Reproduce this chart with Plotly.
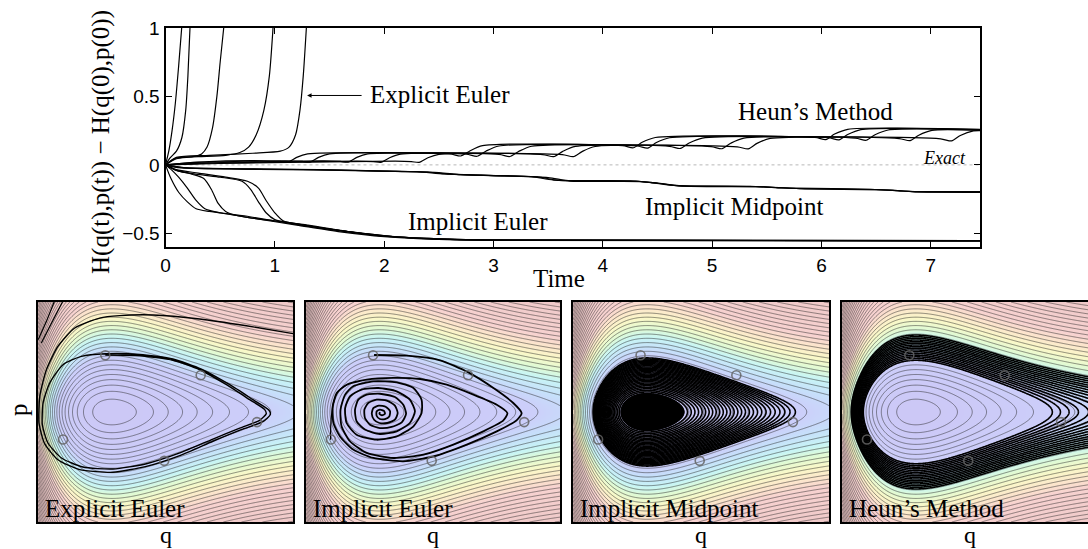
import numpy as np
import plotly.graph_objects as go

# ---------------- top panel: energy error vs time ----------------
exact_t = [0, 7.45]
exact_v = [0, 0]

explicit_euler_t = [
    [0, 0.03, 0.06, 0.09, 0.12, 0.15],
    [0, 0.04, 0.10, 0.15, 0.185, 0.205, 0.225],
    [0, 0.10, 0.25, 0.33, 0.38, 0.43, 0.47, 0.50, 0.535],
    [0, 0.10, 0.30, 0.55, 0.68, 0.76, 0.83, 0.90, 0.95, 0.985],
    [0, 0.10, 0.40, 0.80, 1.05, 1.13, 1.19, 1.23, 1.26, 1.29],
]
explicit_euler_v = [
    [0, 0.10, 0.25, 0.45, 0.72, 1.02],
    [0, 0.05, 0.10, 0.20, 0.40, 0.65, 1.02],
    [0, 0.045, 0.06, 0.08, 0.13, 0.27, 0.50, 0.75, 1.02],
    [0, 0.05, 0.06, 0.07, 0.09, 0.13, 0.22, 0.40, 0.65, 1.02],
    [0, 0.055, 0.07, 0.085, 0.10, 0.13, 0.22, 0.40, 0.65, 1.02],
]

heun_t = [
    [0, 0.3, 0.9, 1.05, 1.12, 1.2, 1.3, 2.6, 2.7, 2.78, 2.9, 4.18, 4.28, 4.36, 4.48, 5.94, 6.04, 6.12, 6.24, 7.45],
    [0, 0.3, 1.1, 1.25, 1.32, 1.4, 1.5, 2.75, 2.85, 2.93, 3.05, 4.31, 4.41, 4.49, 4.61, 6.06, 6.16, 6.24, 6.36, 7.45],
    [0, 0.4, 1.45, 1.6, 1.67, 1.75, 1.85, 3.05, 3.15, 3.23, 3.35, 4.61, 4.71, 4.79, 4.91, 6.31, 6.41, 6.49, 6.61, 7.45],
    [0, 0.4, 1.75, 1.9, 1.97, 2.05, 2.15, 3.45, 3.55, 3.63, 3.75, 4.99, 5.09, 5.17, 5.29, 6.71, 6.81, 6.89, 7.01, 7.45],
    [0, 0.5, 2.1, 2.25, 2.32, 2.4, 2.5, 3.63, 3.73, 3.81, 3.93, 5.23, 5.33, 5.41, 5.53, 7.09, 7.19, 7.27, 7.39, 7.45],
]
heun_v = [
    [0, 0.02, 0.03, 0.025, 0.02, 0.055, 0.08, 0.08, 0.065, 0.1, 0.14, 0.14, 0.125, 0.165, 0.2, 0.2, 0.185, 0.225, 0.26, 0.26],
    [0, 0.018, 0.03, 0.025, 0.02, 0.055, 0.08, 0.078, 0.063, 0.1, 0.138, 0.138, 0.123, 0.163, 0.198, 0.198, 0.183, 0.222, 0.258, 0.258],
    [0, 0.015, 0.03, 0.025, 0.02, 0.055, 0.08, 0.076, 0.061, 0.098, 0.136, 0.135, 0.12, 0.16, 0.196, 0.195, 0.18, 0.22, 0.255, 0.255],
    [0, 0.012, 0.028, 0.024, 0.018, 0.052, 0.078, 0.075, 0.06, 0.097, 0.135, 0.133, 0.118, 0.158, 0.195, 0.192, 0.177, 0.217, 0.252, 0.252],
    [0, 0.01, 0.028, 0.024, 0.018, 0.052, 0.077, 0.075, 0.06, 0.097, 0.134, 0.132, 0.117, 0.157, 0.193, 0.19, 0.175, 0.215, 0.248, 0.25],
]

midpoint_t = [
    [0, 0.15, 0.5, 1.0, 1.5, 2.0, 2.4, 2.6, 3.0, 3.4, 3.6, 4.3, 4.5, 4.7, 5.4, 5.6, 5.8, 6.5, 6.7, 6.85, 7.45],
    [0, 0.2, 0.6, 1.1, 1.6, 2.1, 2.5, 2.7, 3.1, 3.5, 3.7, 4.35, 4.55, 4.75, 5.45, 5.65, 5.85, 6.55, 6.75, 6.9, 7.45],
    [0, 0.1, 0.4, 0.9, 1.4, 1.9, 2.3, 2.55, 2.95, 3.35, 3.55, 4.25, 4.45, 4.65, 5.35, 5.55, 5.75, 6.45, 6.65, 6.8, 7.45],
]
midpoint_v = [
    [0, -0.02, -0.028, -0.032, -0.036, -0.045, -0.052, -0.068, -0.078, -0.088, -0.113, -0.118, -0.133, -0.153, -0.158, -0.166, -0.173, -0.18, -0.188, -0.196, -0.198],
    [0, -0.022, -0.03, -0.035, -0.04, -0.048, -0.056, -0.072, -0.081, -0.093, -0.118, -0.122, -0.138, -0.156, -0.161, -0.169, -0.175, -0.183, -0.191, -0.198, -0.201],
    [0, -0.018, -0.026, -0.03, -0.035, -0.044, -0.05, -0.066, -0.076, -0.086, -0.111, -0.116, -0.131, -0.15, -0.156, -0.164, -0.17, -0.178, -0.186, -0.194, -0.196],
]

implicit_euler_t = [
    [0, 0.05, 0.12, 0.2, 0.28, 0.4, 0.7, 1.0, 1.4, 1.8, 2.2, 2.6, 3.2, 7.45],
    [0, 0.06, 0.12, 0.2, 0.28, 0.36, 0.5, 0.8, 1.2, 1.6, 2.0, 2.5, 3.0, 7.45],
    [0, 0.1, 0.25, 0.35, 0.42, 0.48, 0.55, 0.65, 0.8, 1.1, 1.5, 2.0, 2.5, 3.0, 7.45],
    [0, 0.1, 0.3, 0.5, 0.7, 0.78, 0.85, 0.92, 1.0, 1.2, 1.6, 2.0, 2.5, 3.0, 7.45],
    [0, 0.1, 0.3, 0.55, 0.75, 0.85, 0.92, 1.0, 1.08, 1.3, 1.7, 2.1, 2.6, 3.2, 7.45],
]
implicit_euler_v = [
    [0, -0.1, -0.2, -0.27, -0.32, -0.34, -0.37, -0.41, -0.46, -0.5, -0.53, -0.545, -0.55, -0.555],
    [0, -0.04, -0.09, -0.17, -0.26, -0.32, -0.35, -0.39, -0.44, -0.49, -0.525, -0.545, -0.55, -0.555],
    [0, -0.04, -0.07, -0.1, -0.18, -0.28, -0.34, -0.37, -0.39, -0.42, -0.47, -0.52, -0.54, -0.55, -0.553],
    [0, -0.04, -0.07, -0.09, -0.12, -0.18, -0.27, -0.35, -0.4, -0.43, -0.48, -0.52, -0.54, -0.55, -0.553],
    [0, -0.035, -0.06, -0.09, -0.12, -0.17, -0.26, -0.35, -0.41, -0.44, -0.49, -0.525, -0.545, -0.552, -0.555],
]

x_tick_vals = [0, 1, 2, 3, 4, 5, 6, 7]
y_tick_vals = [-0.5, 0, 0.5, 1]

# ---------------- bottom panels: phase space (q, p) ----------------
# energy-surface model (centre, turning points)
field_q0 = 0.29
field_a = 2.777
field_d = 1.838
field_ps = 7.857
field_levels = dict(start=0.1, end=8.0, size=0.143)

start_q = [0.264, 0.638, 0.859, 0.098, 0.495]
start_p = [0.258, 0.167, -0.046, -0.125, -0.222]

explicit_traj_q = [0.264, 0.399, 0.529, 0.634, 0.739, 0.830, 0.889, 0.895, 0.869, 0.791, 0.686, 0.556, 0.425, 0.294,
                   0.176, 0.092, 0.039, 0.017, 0.020, 0.046, 0.098, 0.170, 0.264, 0.399, 0.529, 0.641, 0.752, 0.843,
                   0.906, 0.911, 0.882, 0.797, 0.686, 0.556, 0.425, 0.294, 0.163, 0.078, 0.026, 0.004, 0.007, 0.033,
                   0.078, 0.144, 0.242, 0.320, 0.451, 0.634, 0.817, 1.0]
explicit_traj_p = [0.259, 0.256, 0.235, 0.192, 0.124, 0.056, 0.011, -0.008, -0.038, -0.073, -0.123, -0.186, -0.235, -0.259,
                   -0.250, -0.209, -0.141, -0.058, 0.041, 0.132, 0.215, 0.253, 0.265, 0.262, 0.241, 0.195, 0.124, 0.056,
                   0.008, -0.012, -0.044, -0.080, -0.133, -0.198, -0.247, -0.274, -0.262, -0.217, -0.144, -0.050, 0.071, 0.192,
                   0.298, 0.382, 0.427, 0.438, 0.441, 0.423, 0.392, 0.356]
explicit_escape_q = [[0.001, 0.033, 0.065], [0.013, 0.059, 0.098]]
explicit_escape_p = [[0.329, 0.412, 0.505], [0.314, 0.420, 0.505]]

implicit_traj_q = [0.268, 0.396, 0.528, 0.639, 0.738, 0.816, 0.849, 0.829, 0.751, 0.633, 0.501, 0.383, 0.265, 0.186,
                   0.134, 0.108, 0.105, 0.121, 0.160, 0.239, 0.344, 0.449, 0.554, 0.659, 0.751, 0.793, 0.777, 0.698,
                   0.580, 0.462, 0.344, 0.239, 0.173, 0.140, 0.136, 0.154, 0.186, 0.265, 0.357, 0.423, 0.455, 0.455,
                   0.423, 0.357, 0.278, 0.199, 0.160, 0.154, 0.173, 0.219, 0.285, 0.357, 0.409, 0.429, 0.409, 0.357,
                   0.291, 0.232, 0.199, 0.193, 0.206, 0.239, 0.291, 0.350, 0.383, 0.394, 0.377, 0.337, 0.291, 0.252,
                   0.232, 0.230, 0.245, 0.278, 0.318, 0.350, 0.361, 0.350, 0.320, 0.289, 0.268, 0.259, 0.265, 0.287,
                   0.315, 0.331, 0.328, 0.311, 0.291, 0.278, 0.278, 0.291, 0.307, 0.311, 0.299, 0.289, 0.291]
implicit_traj_p = [0.259, 0.256, 0.235, 0.180, 0.109, 0.041, -0.005, -0.038, -0.088, -0.148, -0.202, -0.224, -0.209, -0.171,
                   -0.111, -0.050, 0.026, 0.086, 0.124, 0.147, 0.155, 0.150, 0.124, 0.079, 0.033, -0.005, -0.038, -0.088,
                   -0.148, -0.194, -0.209, -0.186, -0.133, -0.065, 0.011, 0.079, 0.117, 0.139, 0.135, 0.109, 0.056, -0.005,
                   -0.065, -0.111, -0.126, -0.103, -0.050, 0.018, 0.071, 0.102, 0.109, 0.094, 0.056, 0.003, -0.050, -0.088,
                   -0.100, -0.080, -0.042, 0.011, 0.056, 0.079, 0.083, 0.068, 0.033, -0.008, -0.047, -0.068, -0.073, -0.058,
                   -0.027, 0.011, 0.041, 0.056, 0.052, 0.029, -0.005, -0.035, -0.050, -0.050, -0.035, -0.008, 0.018, 0.029,
                   0.023, 0.003, -0.020, -0.032, -0.032, -0.017, 0.002, 0.011, 0.005, -0.008, -0.015, -0.008, 0.0]
implicit_side_q = [0.097, 0.098, 0.108, 0.127, 0.167]
implicit_side_p = [-0.126, -0.050, 0.041, 0.094, 0.127]

midpoint_fill_level = 0.2
midpoint_levels = dict(start=0.16, end=1.2, size=0.035)
heun_levels = dict(start=1.1, end=1.95, size=0.055)

panel_titles = ["Explicit Euler", "Implicit Euler", "Implicit Midpoint", "Heun\u2019s Method"]

# ---------------- figure ----------------
W, H_PX = 1088, 549
SERIF = "Liberation Serif"
SANS = "Liberation Sans"


def px(xp):
    return xp / W


def py(yp):
    return 1 - yp / H_PX


fig = go.Figure()

line_style = dict(color="black", width=1.2, shape="spline", smoothing=0.7)
fig.add_trace(go.Scatter(x=exact_t, y=exact_v, mode="lines",
                         line=dict(color="rgb(175,175,175)", width=0.9, dash="dot"),
                         xaxis="x", yaxis="y", showlegend=False, hoverinfo="skip"))
for group_t, group_v in [(explicit_euler_t, explicit_euler_v), (heun_t, heun_v),
                         (midpoint_t, midpoint_v), (implicit_euler_t, implicit_euler_v)]:
    for t, v in zip(group_t, group_v):
        fig.add_trace(go.Scatter(x=t, y=v, mode="lines", line=line_style,
                                 xaxis="x", yaxis="y", showlegend=False, hoverinfo="skip"))

# energy field
fq = np.linspace(0, 1, 301)
fp = np.linspace(-0.5, 0.5, 261)
Q, P = np.meshgrid(fq, fp)
energy = np.sqrt(1 + (field_ps * P) ** 2) - 1 + field_d * (1 - np.exp(-field_a * (Q - field_q0))) ** 2

pastel = [
    [0.0, "rgb(204,200,246)"],
    [1.2 / 4.5, "rgb(204,206,250)"],
    [1.5 / 4.5, "rgb(198,224,250)"],
    [1.85 / 4.5, "rgb(200,245,245)"],
    [2.15 / 4.5, "rgb(224,250,212)"],
    [2.5 / 4.5, "rgb(250,248,200)"],
    [2.85 / 4.5, "rgb(252,230,204)"],
    [3.2 / 4.5, "rgb(247,210,208)"],
    [1.0, "rgb(238,200,200)"],
]
black_scale = [[0, "black"], [1, "black"]]

for i in range(4):
    xa, ya = "x%d" % (i + 2), "y%d" % (i + 2)
    fig.add_trace(go.Contour(x=fq, y=fp, z=energy, xaxis=xa, yaxis=ya, autocontour=False,
                             contours=dict(coloring="heatmap", showlines=True, **field_levels),
                             line=dict(color="rgba(35,35,35,0.72)", width=0.7),
                             colorscale=pastel, zmin=0, zmax=4.5, showscale=False, hoverinfo="skip"))
    if i == 0:
        fig.add_trace(go.Scatter(x=explicit_traj_q, y=explicit_traj_p, mode="lines", xaxis=xa, yaxis=ya,
                                 line=dict(color="black", width=1.4, shape="spline", smoothing=0.6),
                                 showlegend=False, hoverinfo="skip"))
        for eq, ep in zip(explicit_escape_q, explicit_escape_p):
            fig.add_trace(go.Scatter(x=eq, y=ep, mode="lines", xaxis=xa, yaxis=ya,
                                     line=dict(color="black", width=1.2),
                                     showlegend=False, hoverinfo="skip"))
    elif i == 1:
        fig.add_trace(go.Scatter(x=implicit_traj_q, y=implicit_traj_p, mode="lines", xaxis=xa, yaxis=ya,
                                 line=dict(color="black", width=1.8, shape="spline", smoothing=0.6),
                                 showlegend=False, hoverinfo="skip"))
        fig.add_trace(go.Scatter(x=implicit_side_q, y=implicit_side_p, mode="lines", xaxis=xa, yaxis=ya,
                                 line=dict(color="black", width=1.2, shape="spline"),
                                 showlegend=False, hoverinfo="skip"))
    elif i == 2:
        fig.add_trace(go.Contour(x=fq, y=fp, z=energy, xaxis=xa, yaxis=ya, autocontour=False,
                                 contours=dict(type="constraint", operation=">", value=midpoint_fill_level),
                                 fillcolor="black", line=dict(color="black", width=1),
                                 showscale=False, hoverinfo="skip"))
        fig.add_trace(go.Contour(x=fq, y=fp, z=energy, xaxis=xa, yaxis=ya, autocontour=False,
                                 contours=dict(coloring="lines", **midpoint_levels),
                                 line=dict(width=1.6), colorscale=black_scale,
                                 showscale=False, hoverinfo="skip"))
    else:
        fig.add_trace(go.Contour(x=fq, y=fp, z=energy, xaxis=xa, yaxis=ya, autocontour=False,
                                 contours=dict(coloring="lines", **heun_levels),
                                 line=dict(width=1.6), colorscale=black_scale,
                                 showscale=False, hoverinfo="skip"))
    fig.add_trace(go.Scatter(x=start_q, y=start_p, mode="markers", xaxis=xa, yaxis=ya,
                             marker=dict(symbol="circle-open", size=9, color="rgba(100,100,100,0.85)",
                                         line=dict(color="rgba(100,100,100,0.85)", width=1.6)),
                             showlegend=False, hoverinfo="skip"))

tickfont = dict(family=SANS, size=19, color="black")
layout = dict(
    width=W, height=H_PX, margin=dict(l=0, r=0, t=0, b=0, pad=0, autoexpand=False),
    paper_bgcolor="white", plot_bgcolor="white", showlegend=False,
    xaxis=dict(domain=[px(165.5), px(980)], range=[0, 7.45], anchor="y", tickvals=x_tick_vals,
               ticks="inside", ticklen=6, tickwidth=1, tickcolor="black", showline=True, linewidth=2,
               linecolor="black", mirror="ticks", showgrid=False, zeroline=False, tickfont=tickfont,
               automargin=False),
    yaxis=dict(domain=[py(247), py(28)], range=[-0.6, 1], anchor="x", tickvals=y_tick_vals,
               ticks="inside", ticklen=6, tickwidth=1, tickcolor="black", showline=True, linewidth=2,
               linecolor="black", mirror="ticks", showgrid=False, zeroline=False, tickfont=tickfont,
               automargin=False),
)
panel_px = [(38, 293), (306, 560), (573, 829), (842, 1097)]
for i, (a, b) in enumerate(panel_px):
    last = b > W
    xr = [0, (W - a) / (b - a)] if last else [0, 1]
    layout["xaxis%d" % (i + 2)] = dict(domain=[px(a), min(px(b), 1.0)], range=xr, anchor="y%d" % (i + 2),
                                       showline=True, mirror=True, linewidth=1.5, linecolor="black",
                                       showticklabels=False, ticks="", showgrid=False, zeroline=False,
                                       automargin=False)
    layout["yaxis%d" % (i + 2)] = dict(domain=[py(522), py(302)], range=[-0.5, 0.5], anchor="x%d" % (i + 2),
                                       showline=True, mirror=not last, linewidth=1.5, linecolor="black",
                                       showticklabels=False, ticks="", showgrid=False, zeroline=False,
                                       automargin=False)
fig.update_layout(**layout)

serif25 = dict(family=SERIF, size=25, color="black")
ann = []


def text(x, y, s, xanchor="center", font=serif25, angle=0):
    ann.append(dict(x=px(x), y=py(y), xref="paper", yref="paper", text=s, showarrow=False,
                    xanchor=xanchor, yanchor="middle", font=font, textangle=angle))


text(368, 94, "Explicit Euler", xanchor="left")
text(815, 111, "Heun\u2019s Method")
text(968, 158, "<i>Exact</i>", xanchor="right", font=dict(family=SERIF, size=18, color="black"))
text(734, 206, "Implicit Midpoint")
text(478, 221, "Implicit Euler")
text(559, 278, "Time")
text(101, 142, "H(q(t),p(t)) \u2212 H(q(0),p(0))", angle=-90)
text(18, 410, "p", angle=-90)
for (a, b), name in zip(panel_px, panel_titles):
    text((a + b) / 2, 535, "q", font=dict(family=SERIF, size=24, color="black"))
    text(a + 5, 508, name, xanchor="left")

ann.append(dict(x=1.295, y=0.507, xref="x", yref="y", ax=56, ay=0, axref="pixel", ayref="pixel",
                text="", showarrow=True, arrowhead=2, arrowsize=0.9, arrowwidth=1, arrowcolor="black"))
fig.update_layout(annotations=ann)

fig.write_html("out.html")
